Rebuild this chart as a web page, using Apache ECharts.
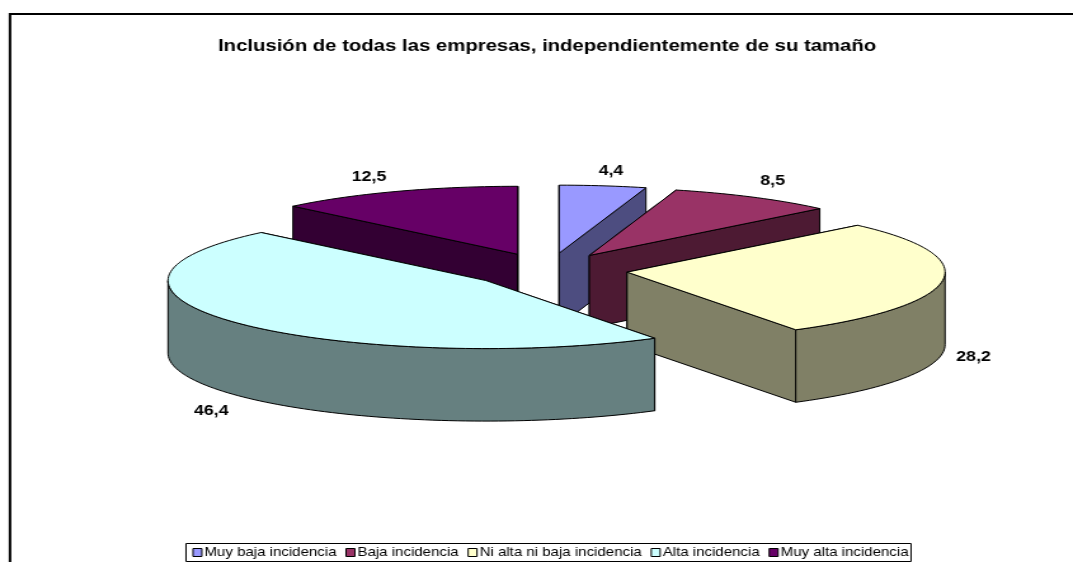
<!DOCTYPE html>
<html><head><meta charset="utf-8">
<style>html,body{margin:0;padding:0;background:#fff;overflow:hidden}
#c{width:845px;height:562px;transform-origin:0 0;transform:scaleX(1.26982)}</style>
<script src="https://cdn.jsdelivr.net/npm/echarts@6/dist/echarts.min.js"></script>
</head><body><div id="c"></div>
<script>
const titleText = 'Inclusión de todas las empresas, independientemente de su tamaño';
const categories = ['Muy baja incidencia','Baja incidencia','Ni alta ni baja incidencia','Alta incidencia','Muy alta incidencia'];
const values = [4.4, 8.5, 28.2, 46.4, 12.5];
const topColors = ['#9999FF','#993366','#FFFFCC','#CCFFFF','#660066'];
const sideColors = ['#4D4D80','#4D1A33','#808066','#668080','#330033'];
const drawRank = [1, 3, 4, 5, 2];
const labelNudge = [[8,-15],[19,-16],[31,4],[-26,16],[-27,-14]];

const SX = 1.26982; // the whole picture is stretched sideways, text included
const FONT = '"Liberation Sans", Arial, sans-serif';
const geo = {cx:548.2, cy:270, rx:318, ry:68, depth:72.5, explode:79.5};
const total = values.reduce((a,b)=>a+b,0);
const rad = d => d*Math.PI/180;

function arcPts(o, a0, a1, dz){
  const n = Math.max(2, Math.ceil(Math.abs(a1-a0)/1.5));
  const pts = [];
  for(let i=0;i<=n;i++){
    const a = rad(a0+(a1-a0)*i/n);
    pts.push([o[0]+geo.rx*Math.sin(a), o[1]-geo.ry*Math.cos(a)+dz]);
  }
  return pts;
}
function poly(points, fill){
  return {type:'polygon', shape:{points:points.map(p=>[p[0]/SX,p[1]])},
    style:{fill, stroke:'#000', lineWidth:1, lineJoin:'round'}};
}
function sliceRender(idx){
  return function(){
    let acc = 0;
    for(let i=0;i<idx;i++) acc += values[i];
    const a0 = acc/total*360, a1 = (acc+values[idx])/total*360, mid = (a0+a1)/2;
    const ratio = geo.ry/geo.rx;
    const o = [geo.cx+geo.explode*Math.sin(rad(mid)), geo.cy-geo.explode*ratio*Math.cos(rad(mid))];
    const d = geo.depth, side = sideColors[idx], kids = [];
    const radial = a => {
      const p = arcPts(o,a,a,0)[0];
      return poly([o,p,[p[0],p[1]+d],[o[0],o[1]+d]], side);
    };
    kids.push(radial(a0), radial(a1));
    const w0 = Math.max(a0,90), w1 = Math.min(a1,270);
    if(w1>w0){
      kids.push(poly(arcPts(o,w0,w1,0).concat(arcPts(o,w1,w0,d)), side));
    }
    kids.push(poly([o].concat(arcPts(o,a0,a1,0)), topColors[idx]));
    const edge = arcPts(o,mid,mid,(mid>90&&mid<270)?d:0)[0];
    kids.push({type:'text', z2:10, style:{
      text:String(values[idx]).replace('.',','),
      x:(edge[0]+labelNudge[idx][0])/SX, y:edge[1]+labelNudge[idx][1],
      align:'center', verticalAlign:'middle',
      font:'bold 14px '+FONT, fill:'#000'}});
    return {type:'group', children:kids};
  };
}
const chart = echarts.init(document.getElementById('c'), null, {renderer:'canvas'});
chart.setOption({
  animation:false,
  backgroundColor:'#fff',
  title:{text:titleText, left:218/SX, top:39, padding:0,
    textStyle:{fontFamily:FONT, fontSize:16, fontWeight:'bold', color:'#000'}},
  legend:{data:categories, left:186/SX, top:543.5, orient:'horizontal', padding:[3,2,3,5],
    itemWidth:7, itemHeight:8, itemGap:7, icon:'rect',
    backgroundColor:'#fff', borderColor:'#000', borderWidth:1,
    selectedMode:false,
    itemStyle:{borderColor:'#000', borderWidth:1},
    textStyle:{fontFamily:FONT, fontSize:11.85, color:'#000', padding:[0,0,0,-3]}},
  graphic:[{type:'polyline', silent:true, shape:{points:[[10/SX,562],[10/SX,14],[845,14]]},
    style:{stroke:'#000', lineWidth:2, fill:null}}],
  series:categories.map((name,i)=>({
    type:'custom', name, coordinateSystem:'none', z:2+drawRank[i],
    itemStyle:{color:topColors[i]},
    silent:true, data:[[values[i]]], renderItem:sliceRender(i)
  }))
});
</script></body></html>
